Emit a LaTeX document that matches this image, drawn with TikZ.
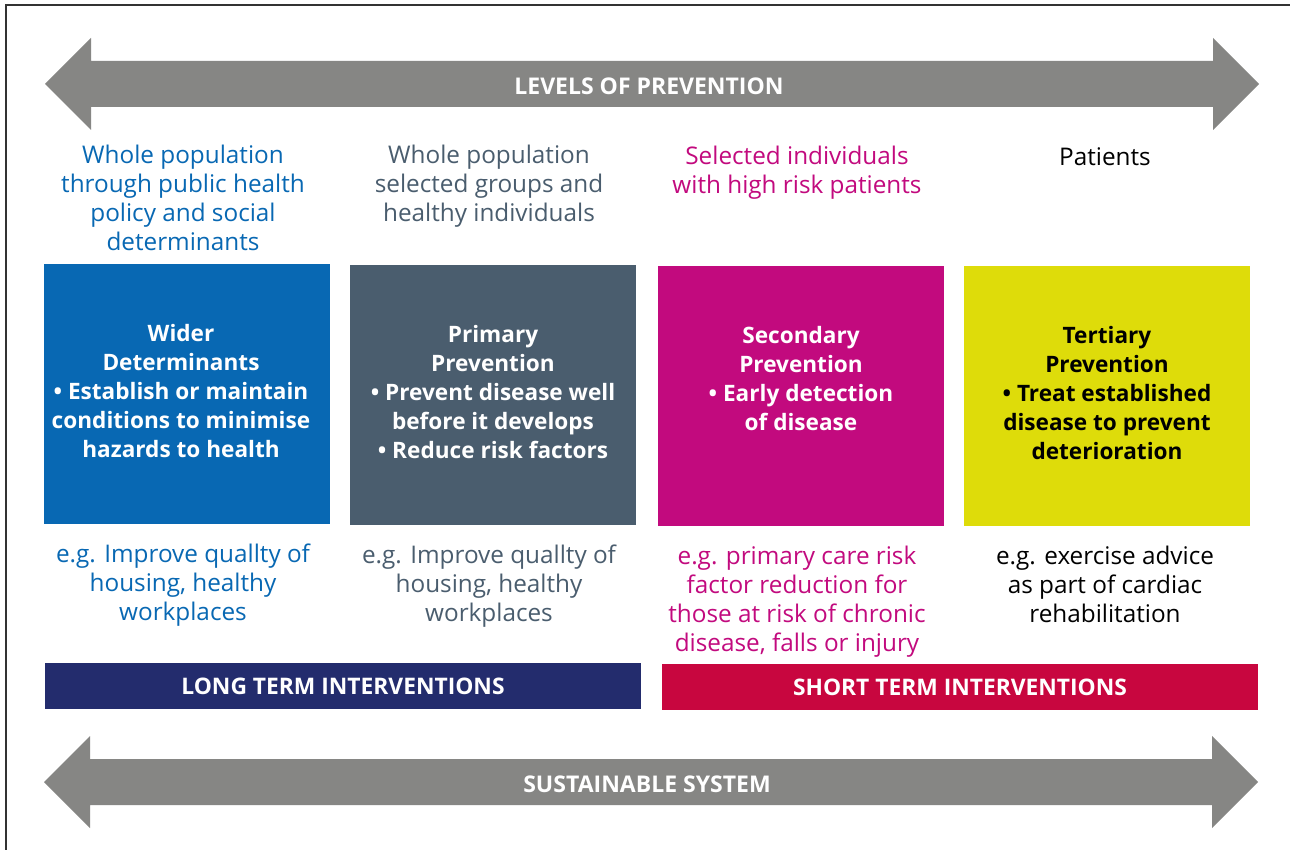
\documentclass[tikz,border=0pt]{standalone}
\usepackage{fontspec}
\setsansfont{Open Sans}
\usepackage{xcolor}
\usepackage{tikz}
\usetikzlibrary{positioning}

\definecolor{arrowgray}{HTML}{868684}
\definecolor{widerblue}{HTML}{0868B3}
\definecolor{primslate}{HTML}{4A5D6E}
\definecolor{secmagenta}{HTML}{C20A7E}
\definecolor{tertyellow}{HTML}{DEDC0A}
\definecolor{longnavy}{HTML}{232C6D}
\definecolor{shortred}{HTML}{C8063F}

\begin{document}
\begin{tikzpicture}[x=1pt,y=-1pt,
  every node/.style = {align=center, inner sep=0pt, font=\sffamily\fontsize{24.3}{28.8}\selectfont},
  box/.style = {minimum width=286pt, minimum height=260pt},
  boxtext/.style = {below=60pt of #1.north, font=\sffamily\bfseries\fontsize{22.6}{29}\selectfont},
  bar/.style = {minimum width=596pt, minimum height=46pt, text=white,
    font=\sffamily\bfseries\fontsize{22.8}{23}\selectfont},
  caption/.style = {font=\sffamily\bfseries\fontsize{23}{23}\selectfont, text=white},
  target/.style = {anchor=north},
  example/.style = {below=20pt of #1},
  node distance=20pt]
  \useasboundingbox (0,0) rectangle (1290,850);
  \fill[white] (0,0) rectangle (1290,850);
  % frame
  \draw[line width=1.6pt, black!80] (6,850) -- (6,5) -- (1290,5);

  % arrows
  \fill[arrowgray] (45,84) -- (91,38) -- (91,61) -- (1213,61) -- (1213,38) -- (1259,84)
    -- (1213,130) -- (1213,107) -- (91,107) -- (91,130) -- cycle;
  \node[caption] (levels) at (649,86) {LEVELS OF PREVENTION};
  \fill[arrowgray] (44,782) -- (90,736) -- (90,759) -- (1212,759) -- (1212,736) -- (1258,782)
    -- (1212,828) -- (1212,805) -- (90,805) -- (90,828) -- cycle;
  \node[caption] (system) at (647,784) {SUSTAINABLE SYSTEM};

  % boxes
  \node[box, fill=widerblue] (wider) at (187,394) {};
  \node[box, fill=primslate] (primary) at (493,395) {};
  \node[box, fill=secmagenta] (secondary) at (801,396) {};
  \node[box, fill=tertyellow] (tertiary) at (1107,396) {};
  \node[boxtext=wider, xshift=-6pt, text=white] (widertext) {Wider\\Determinants\\%
    \textbullet{} Establish or maintain\\conditions to minimise\\hazards to health};
  \node[boxtext=primary, text=white] (primarytext) {Primary\\Prevention\\%
    \textbullet{} Prevent disease well\\before it develops\\\textbullet{} Reduce risk factors};
  \node[boxtext=secondary, text=white] (secondarytext) {Secondary\\Prevention\\%
    \textbullet{} Early detection\\of disease};
  \node[boxtext=tertiary, text=black] (tertiarytext) {Tertiary\\Prevention\\%
    \textbullet{} Treat established\\disease to prevent\\deterioration};

  % target groups
  \node[target, text=widerblue] (widergroup) at (183,145) {Whole population\\%
    through public health\\policy and social\\determinants};
  \node[target, text=primslate] (primarygroup) at (489,145) {Whole population\\%
    selected groups and\\healthy individuals};
  \node[target, text=secmagenta] (secondarygroup) at (797,146) {Selected individuals\\%
    with high risk patients};
  \node[target, text=black] (tertiarygroup) at (1105,147) {Patients};

  % examples
  \node[example=wider, xshift=-4pt, text=widerblue] (widerex) {e.g. Improve quallty of\\%
    housing, healthy\\workplaces};
  \node[example=primary, xshift=-4pt, text=primslate] (primaryex) {e.g. Improve quallty of\\%
    housing, healthy\\workplaces};
  \node[example=secondary, xshift=-4pt, text=secmagenta] (secondaryex) {e.g. primary care risk\\%
    factor reduction for\\those at risk of chronic\\disease, falls or injury};
  \node[example=tertiary, xshift=-2pt, text=black] (tertiaryex) {e.g. exercise advice\\%
    as part of cardiac\\rehabilitation};

  % interventions
  \node[bar, fill=longnavy] (longterm) at (343,686) {LONG TERM INTERVENTIONS};
  \node[bar, fill=shortred] (shortterm) at (960,687) {SHORT TERM INTERVENTIONS};
\end{tikzpicture}
\end{document}
